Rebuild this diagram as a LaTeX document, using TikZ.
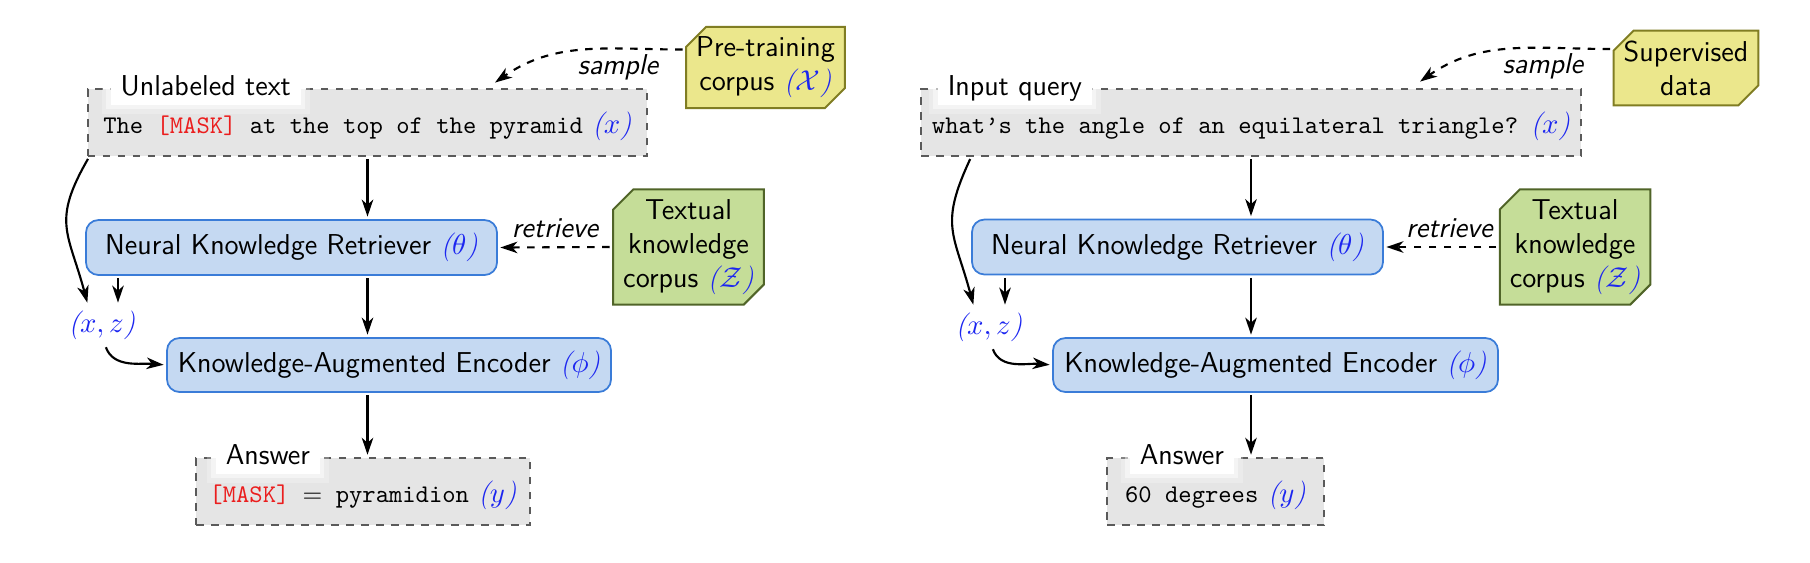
\RequirePackage{fix-cm}
\documentclass[tikz,border=0pt]{standalone}
\usetikzlibrary{arrows.meta,shapes.misc,calc}
\renewcommand{\familydefault}{\sfdefault}
\definecolor{mblue}{RGB}{28,38,240}
\definecolor{mred}{RGB}{235,30,30}
\definecolor{bfill}{RGB}{197,217,242}
\definecolor{bdraw}{RGB}{58,124,216}
\definecolor{gfill}{RGB}{229,229,229}
\definecolor{gdraw}{RGB}{90,90,90}
\definecolor{yfill}{RGB}{235,231,140}
\definecolor{ydraw}{RGB}{128,125,35}
\definecolor{cfill}{RGB}{197,221,152}
\definecolor{cdraw}{RGB}{80,100,40}
\newcommand\mv[1]{{\color{mblue}\rmfamily\itshape(}{\color{mblue}$#1$}{\color{mblue}\rmfamily\itshape)}}
\newcommand\tx[1]{{\fontsize{10.15}{12}\selectfont\ttfamily #1}}
\newcommand\msk{{\color{mred}[MASK]}}
\begin{document}
\begin{tikzpicture}[x=0.4pt,y=0.4pt,
  every node/.style={font=\fontsize{11.5}{13.6}\selectfont},
  bluebox/.style={draw=bdraw, fill=bfill, line width=0.7pt, rounded corners=5pt,
    minimum height=22pt, inner sep=0pt},
  graybox/.style={draw=gdraw, fill=gfill, dashed, line width=0.6pt, inner xsep=0pt,
    inner ysep=0pt, text height=17.6pt, text depth=9.2pt},
  corpus/.style={chamfered rectangle, chamfered rectangle corners={north west,south east},
    chamfered rectangle xsep=4pt, chamfered rectangle ysep=4pt, line width=0.8pt,
    align=center, inner sep=0pt},
  ycorpus/.style={corpus, draw=ydraw, fill=yfill},
  gcorpus/.style={corpus, draw=cdraw, fill=cfill},
  boxlabel/.style={fill=white, anchor=west, inner xsep=4pt, inner ysep=1.5pt,
    text height=8pt, text depth=2.4pt,
    preaction={draw=white, line width=7pt, draw opacity=0.25},
    preaction={draw=white, line width=3.5pt, draw opacity=0.45}},
  lbl/.style={font=\fontsize{11.5}{13.6}\selectfont\itshape},
  conn/.style={-{Stealth[length=6.8pt,width=4.6pt,inset=2pt]}, line width=0.85pt,
    shorten >=1pt, shorten <=1pt},
  dconn/.style={conn, dashed}
]
\useasboundingbox (0,0) rectangle (1810,-562);

% ---------------- left panel ----------------
\node[graybox, minimum width=223.6pt] (top1) at (367.5,-122.5)
  {\tx{The \msk{} at the top of the pyramid} \mv{x}};
\node[boxlabel] (lab1) at ($(top1.north west)+(23,0)$) {Unlabeled text};
\node[bluebox, minimum width=164.4pt] (ret1) at (291.5,-247.5)
  {Neural Knowledge Retriever \mv{\theta}};
\node[bluebox, minimum width=177.6pt, minimum height=21.6pt] (kae1) at (389,-365)
  {Knowledge-Augmented Encoder \mv{\phi}};
\node[graybox, minimum width=133.6pt] (ans1) at (363,-491.5)
  {\tx{\msk{} $=$ pyramidion} \mv{y}};
\node[boxlabel] (alab1) at ($(ans1.north west)+(20,0)$) {Answer};
\node[inner sep=2pt] (xz1) at (102,-325) {\mv{x, z}};
\node[ycorpus, minimum width=58pt, minimum height=28pt] (pre1) at (765.5,-67.5)
  {Pre-training\\corpus \mv{\mathcal{X}}};
\node[gcorpus, minimum width=55pt, minimum height=41pt] (txt1) at (688.5,-247)
  {Textual\\knowledge\\corpus \mv{\mathcal{Z}}};
\node[lbl] (smpl1) at (618,-67) {sample};
\coordinate (smp1) at (493,-84);
\coordinate (xzl1) at ($(xz1.north)+(-14,0)$);
\coordinate (xzr1) at ($(xz1.north)+(16,0)$);

\draw[conn] (top1.south) -- (top1.south |- ret1.north);
\draw[conn] (ret1.south -| top1.south) -- (kae1.north -| top1.south);
\draw[conn] (kae1.south -| top1.south) -- (ans1.north -| top1.south);
\draw[conn] ($(top1.south west)+(2,0)$) to[out=240,in=105,looseness=1.3] (xzl1);
\draw[conn] (ret1.south -| xzr1) -- (xzr1);
\draw[conn] ($(xz1.south)+(3,0)$) to[out=-70,in=175] (kae1.west);
\draw[dconn] ($(pre1.west)+(0,18)$) to[out=180,in=35] (smp1);
\draw[dconn] (txt1.west) -- node[lbl, above, pos=0.5] (rl1) {retrieve} (ret1.east);

% ---------------- right panel ----------------
\node[graybox, minimum width=264pt] (top2) at (1251,-122.5)
  {\tx{what’s the angle of an equilateral triangle?} \mv{x}};
\node[boxlabel] (lab2) at ($(top2.north west)+(17,0)$) {Input query};
\node[bluebox, minimum width=164.4pt] (ret2) at (1177.5,-247)
  {Neural Knowledge Retriever \mv{\theta}};
\node[bluebox, minimum width=178pt, minimum height=21.6pt] (kae2) at (1275.5,-365)
  {Knowledge-Augmented Encoder \mv{\phi}};
\node[graybox, minimum width=86.8pt] (ans2) at (1215.5,-491.5)
  {\tx{60 degrees} \mv{y}};
\node[boxlabel] (alab2) at ($(ans2.north west)+(23,0)$) {Answer};
\node[inner sep=2pt] (xz2) at (989,-327) {\mv{x, z}};
\node[ycorpus, minimum width=54.4pt, minimum height=27.6pt] (sup2) at (1686,-68)
  {Supervised\\data};
\node[gcorpus, minimum width=54.6pt, minimum height=41pt] (txt2) at (1575,-247)
  {Textual\\knowledge\\corpus \mv{\mathcal{Z}}};
\node[lbl] (smpl2) at (1543,-66) {sample};
\coordinate (smp2) at (1418,-83);
\coordinate (xzl2) at ($(xz2.north)+(-15,0)$);
\coordinate (xzr2) at ($(xz2.north)+(16,0)$);

\draw[conn] (top2.south) -- (top2.south |- ret2.north);
\draw[conn] (ret2.south -| top2.south) -- (kae2.north -| top2.south);
\draw[conn] (kae2.south -| top2.south) -- (ans2.north -| top2.south);
\draw[conn] ($(top2.south west)+(51,0)$) to[out=245,in=105,looseness=1.3] (xzl2);
\draw[conn] (ret2.south -| xzr2) -- (xzr2);
\draw[conn] ($(xz2.south)+(3,0)$) to[out=-70,in=175] (kae2.west);
\draw[dconn] ($(sup2.west)+(0,19)$) to[out=180,in=35] (smp2);
\draw[dconn] (txt2.west) -- node[lbl, above, pos=0.43] (rl2) {retrieve} (ret2.east);
\end{tikzpicture}
\end{document}
